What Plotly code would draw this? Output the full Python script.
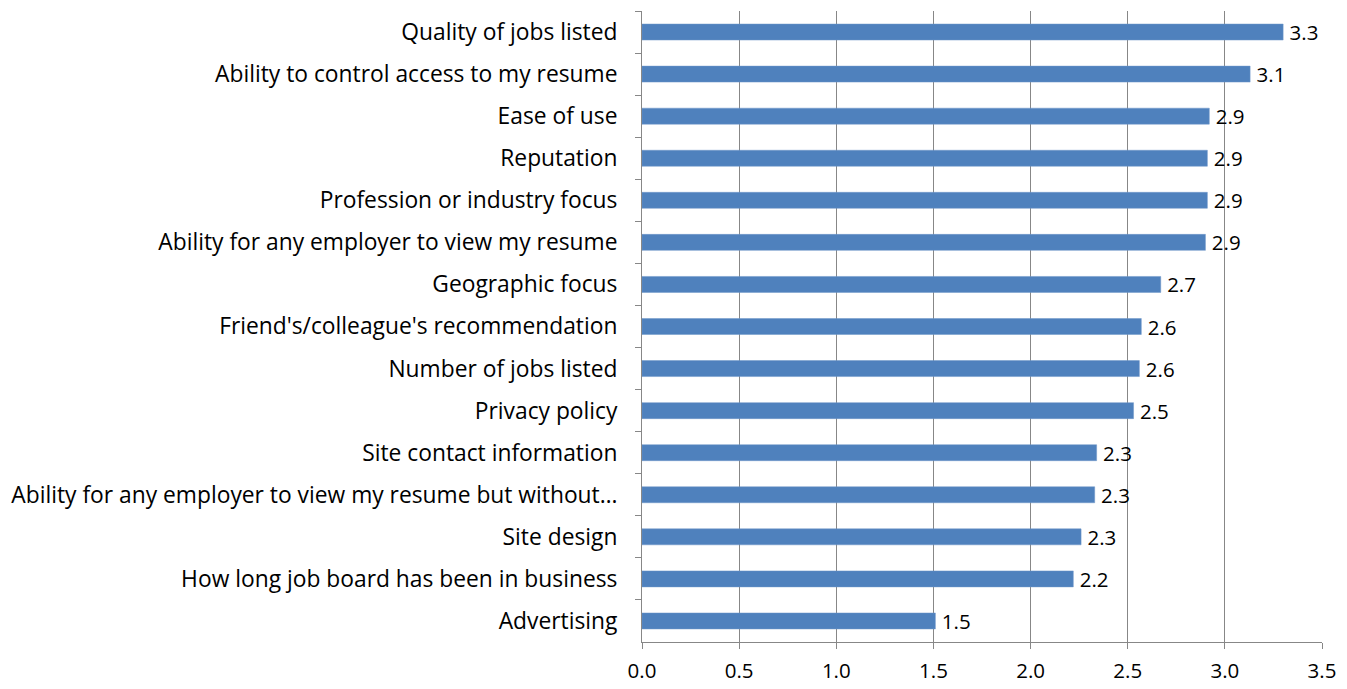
import plotly.graph_objects as go

categories = [
    "Quality of jobs listed",
    "Ability to control access to my resume",
    "Ease of use",
    "Reputation",
    "Profession or industry focus",
    "Ability for any employer to view my resume",
    "Geographic focus",
    "Friend's/colleague's recommendation",
    "Number of jobs listed",
    "Privacy policy",
    "Site contact information",
    "Ability for any employer to view my resume but without…",
    "Site design",
    "How long job board has been in business",
    "Advertising",
]
values = [3.30, 3.13, 2.92, 2.91, 2.91, 2.90, 2.67, 2.57, 2.56, 2.53, 2.34, 2.33, 2.26, 2.22, 1.51]
x_ticks = [0, 0.5, 1.0, 1.5, 2.0, 2.5, 3.0, 3.5]

FONT = "Open Sans"
fig = go.Figure(go.Bar(
    y=categories,
    x=values,
    orientation="h",
    marker=dict(color="#4F81BD", line=dict(color="#6E96C8", width=0.5)),
    width=0.38,
    texttemplate="\u2009%{x:.1f}",
    textposition="outside",
    constraintext="none",
    textfont=dict(family=FONT, size=20.5, color="#000000"),
    cliponaxis=False,
    hoverinfo="x+y",
))

fig.update_layout(
    width=1339, height=681,
    margin=dict(l=634, r=25, t=3, b=47),
    paper_bgcolor="white", plot_bgcolor="white",
    showlegend=False,
    font=dict(family=FONT, size=19, color="#000000"),
    xaxis=dict(
        range=[0, 3.5], tickvals=x_ticks, ticktext=[f"{t:.1f}" for t in x_ticks],
        showgrid=True, gridcolor="#878787", gridwidth=1,
        showline=True, linecolor="#878787", linewidth=1,
        ticks="outside", ticklen=6, tickcolor="#878787",
        zeroline=False, fixedrange=True, automargin=False,
        ticklabelstandoff=4,
        tickfont=dict(family=FONT, size=20.5),
    ),
    yaxis=dict(
        autorange="reversed", type="category",
        showline=True, linecolor="#878787", linewidth=1,
        ticks="outside", ticklen=6, tickcolor="#878787", tickson="boundaries",
        showgrid=False, ticklabelstandoff=19, automargin=False,
        tickfont=dict(family=FONT, size=22.8),
    ),
)

fig.write_html("out.html")
